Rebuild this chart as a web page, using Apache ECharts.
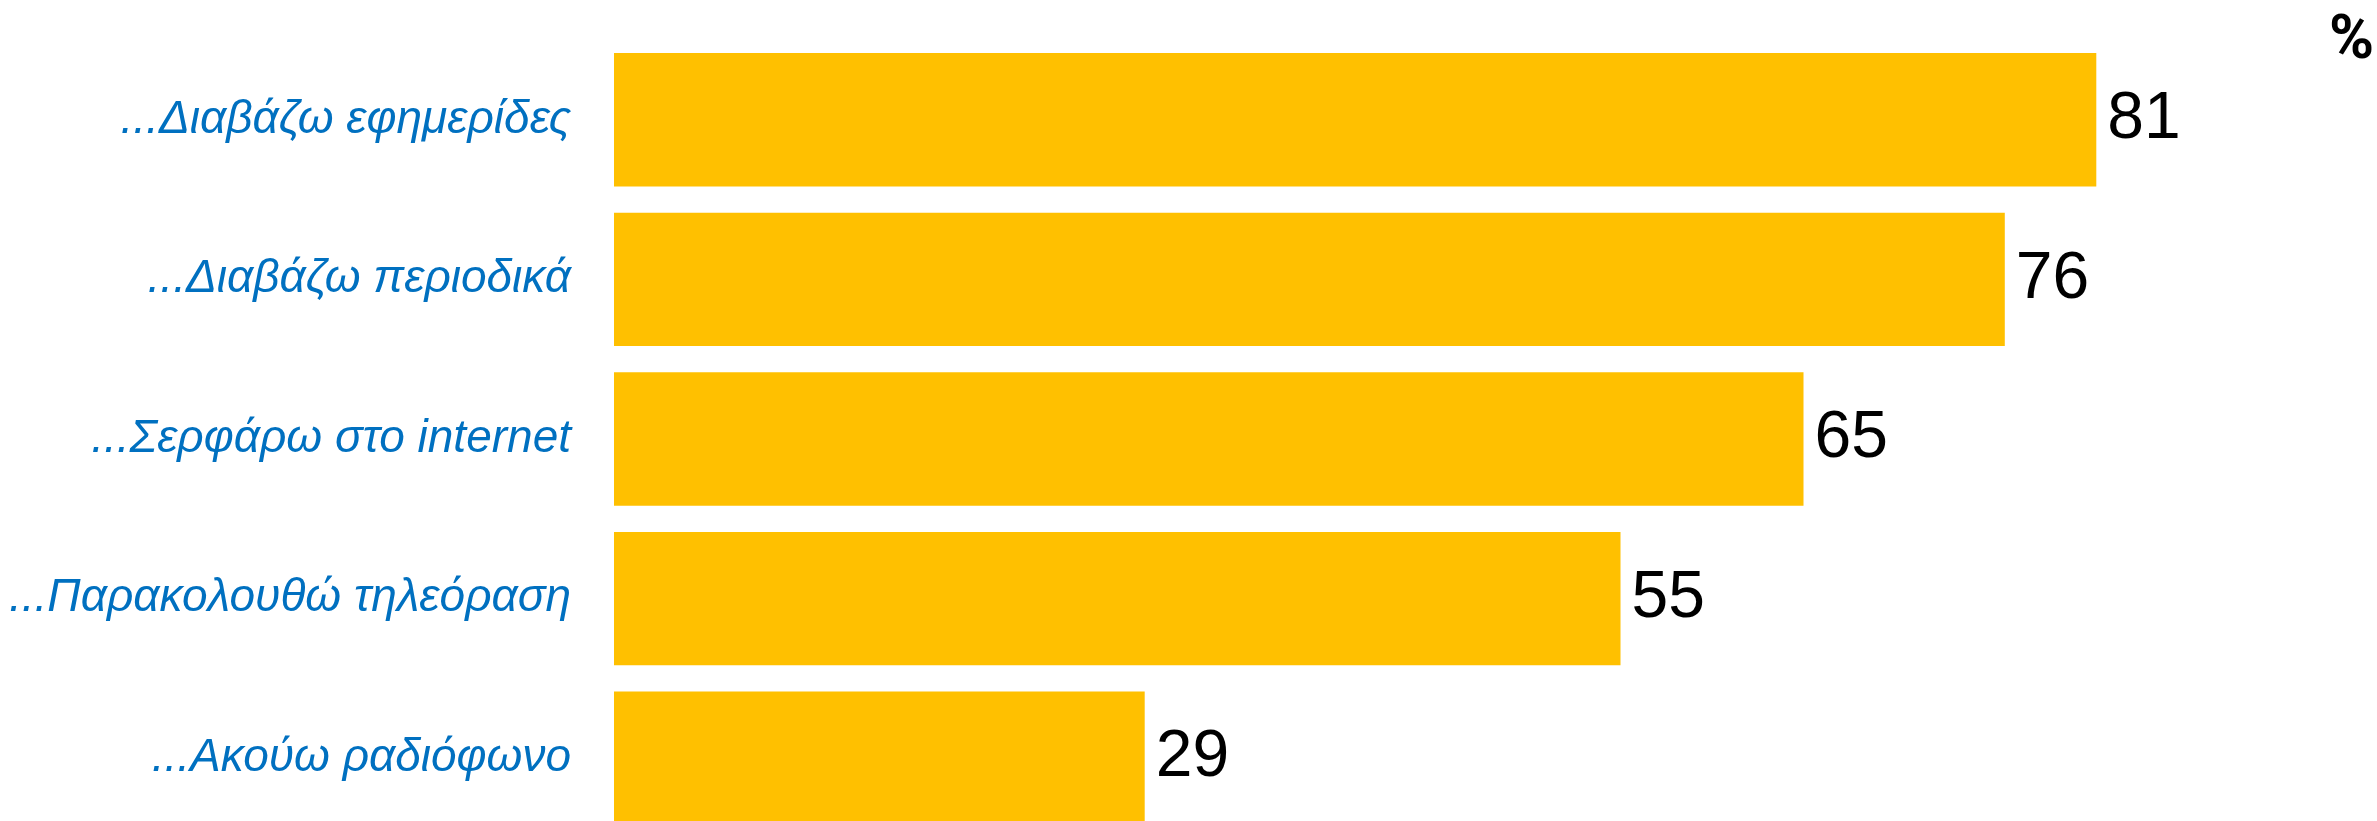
<!DOCTYPE html>
<html>
<head>
<meta charset="utf-8">
<script src="https://cdn.jsdelivr.net/npm/echarts@6/dist/echarts.min.js"></script>
<style>
  html, body { margin: 0; padding: 0; background: #fff; }
  #chartDiv { width: 2377px; height: 821px; }
</style>
</head>
<body>
<div id="chartDiv"></div>
<script>
// categories from top to bottom
var categories = [
    '...Διαβάζω εφημερίδες',
    '...Διαβάζω περιοδικά',
    '...Σερφάρω στο internet',
    '...Παρακολουθώ τηλεόραση',
    '...Ακούω ραδιόφωνο'
];
var values = [81, 76, 65, 55, 29];
var unitText = '%';

var myChart = echarts.init(document.getElementById('chartDiv'));
var option = {
    animation: false,
    title: {
        text: unitText,
        right: -2,
        top: 7,
        textStyle: {
            fontFamily: 'Roboto, "Liberation Sans", Arial, sans-serif',
            fontWeight: 'bold',
            fontSize: 61,
            color: '#000'
        }
    },
    grid: {
        left: 614,
        top: 40,
        width: 1647,
        height: 798,
        outerBoundsMode: 'none',
        containLabel: false
    },
    xAxis: {
        type: 'value',
        min: 0,
        max: 90,
        show: false
    },
    yAxis: {
        type: 'category',
        inverse: true,
        data: categories,
        axisLine: { show: false },
        axisTick: { show: false },
        axisLabel: {
            margin: 43,
            fontFamily: '"Liberation Sans", Arial, sans-serif',
            fontStyle: 'italic',
            fontSize: 46,
            color: '#0070C0'
        }
    },
    color: ['#FFC000'],
    series: [{
        type: 'bar',
        data: values,
        barCategoryGap: '16.4%',
        label: {
            show: true,
            position: 'right',
            distance: 11,
            fontFamily: '"Liberation Sans", Arial, sans-serif',
            fontSize: 66,
            color: '#000'
        }
    }]
};
myChart.setOption(option);
</script>
</body>
</html>
